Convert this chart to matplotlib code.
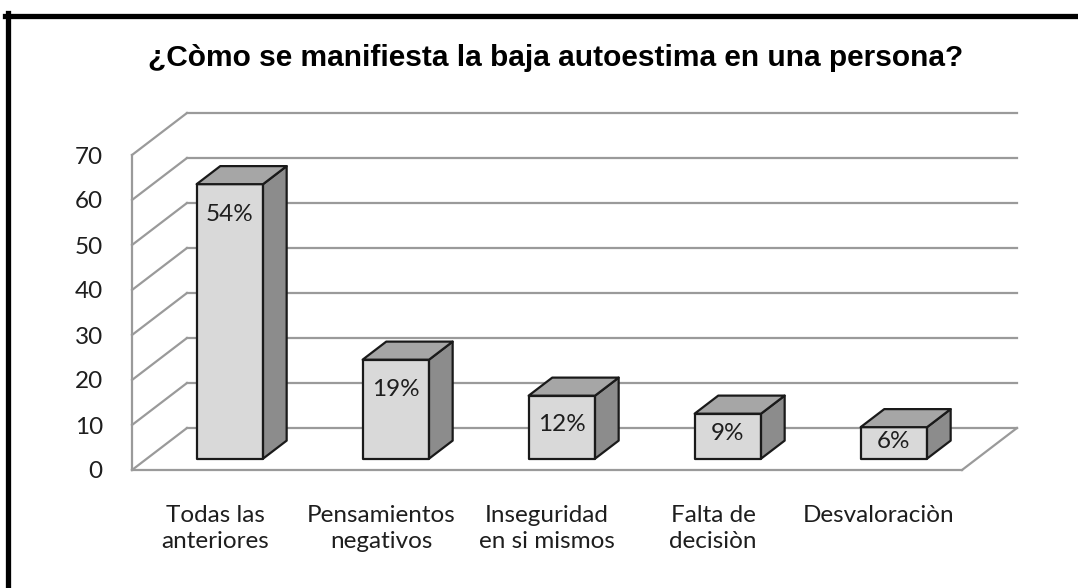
import matplotlib
matplotlib.use("Agg")
import matplotlib.pyplot as plt
from matplotlib.patches import Polygon
from matplotlib.lines import Line2D

# datos
categorias = ["Todas las\nanteriores", "Pensamientos\nnegativos", "Inseguridad\nen si mismos",
              "Falta de\ndecisiòn", "Desvaloraciòn"]
valores = [61, 22, 14, 10, 7]
etiquetas = ["54%", "19%", "12%", "9%", "6%"]
ticks = list(range(0, 80, 10))
titulo = "¿Còmo se manifiesta la baja autoestima en una persona?"

# pseudo 3D
DX = 0.331     # profundidad en unidades de categoria
DV = 9.33      # profundidad en unidades de valor
d1, d2 = 0.27, 0.70
ancho = 0.4

grid_c = "#9a9a9a"
frente = "#d9d9d9"
lado = "#8c8c8c"
arriba = "#a6a6a6"
fuente = "Lato"
fs = 17.5

W, H = 1078, 588
fig = plt.figure(figsize=(W / 100, H / 100), dpi=100)
ax = fig.add_axes([132 / W, (H - 470) / H, 830 / W, 315 / H])
n = len(valores)
ax.set_xlim(0, n)
ax.set_ylim(0, 70)


def p(x, v, d):
    return (x + d * DX, v + d * DV)


def linea(a, b):
    ax.add_line(Line2D([a[0], b[0]], [a[1], b[1]], color=grid_c, lw=1.6,
                       clip_on=False, zorder=1))


# paredes y piso
for t in ticks:
    linea(p(0, t, 0), p(0, t, 1))
    linea(p(0, t, 1), p(n, t, 1))
linea(p(0, 0, 0), p(0, 70, 0))
linea(p(0, 0, 0), p(n, 0, 0))
linea(p(n, 0, 0), p(n, 0, 1))

# barras
for i, v in enumerate(valores):
    x0, x1 = i + 0.5 - ancho / 2, i + 0.5 + ancho / 2
    caras = [
        ([p(x0, 0, d1), p(x1, 0, d1), p(x1, v, d1), p(x0, v, d1)], frente),
        ([p(x1, 0, d1), p(x1, 0, d2), p(x1, v, d2), p(x1, v, d1)], lado),
        ([p(x0, v, d1), p(x1, v, d1), p(x1, v, d2), p(x0, v, d2)], arriba),
    ]
    for pts, c in caras:
        ax.add_patch(Polygon(pts, closed=True, facecolor=c, edgecolor="#1a1a1a",
                             lw=1.6, joinstyle="round", clip_on=False, zorder=3))
    h_px = v * 315 / 70
    off = min(30, 0.45 * h_px)
    ax.annotate(etiquetas[i], xy=p(i + 0.5, v, d1), xytext=(0, -off * 0.72),
                textcoords="offset points", ha="center", va="center",
                fontsize=fs, family=fuente, color="#1e1e1e", zorder=5)

ax.set_yticks(ticks)
ax.set_yticklabels([str(t) for t in ticks], family=fuente, fontsize=fs, color="#1e1e1e")
ax.set_xticks([i + 0.5 for i in range(n)])
ax.set_xticklabels(categorias, family=fuente, fontsize=fs, color="#1e1e1e",
                   linespacing=1.3)
ax.tick_params(axis="y", length=0, pad=21)
ax.tick_params(axis="x", length=0, pad=25)
for s in ax.spines.values():
    s.set_visible(False)
ax.patch.set_visible(False)

fig.text(556 / W, 1 - 58 / H, titulo, ha="center", va="center", fontsize=21.5,
         fontweight="bold", family="Liberation Sans", color="black")

# marco
fig.add_artist(Line2D([7.5 / W, 7.5 / W], [0, 1 - 13 / H], color="black", lw=3.8,
                      transform=fig.transFigure))
fig.add_artist(Line2D([5 / W, 1], [1 - 15.5 / H, 1 - 15.5 / H], color="black", lw=3.8,
                      transform=fig.transFigure))

fig.savefig("out.png", dpi=100)
